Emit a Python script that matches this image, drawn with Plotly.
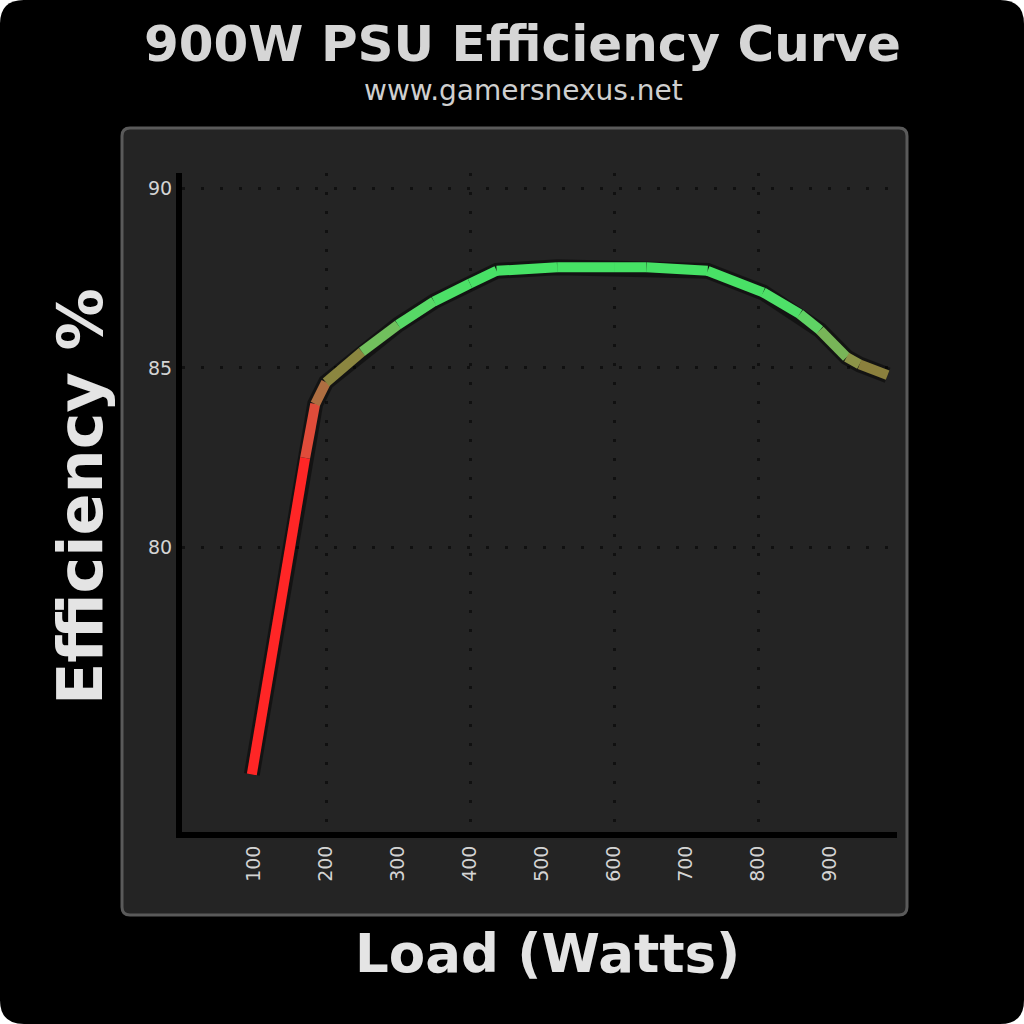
import plotly.graph_objects as go
from plotly.colors import sample_colorscale

# Efficiency curve
load_w = [97, 171, 185, 200, 250, 300, 350, 400, 437, 521, 600, 645, 730, 807, 858, 886, 923, 941, 980]
efficiency = [73.7, 82.5, 84.0, 84.6, 85.45, 86.2, 86.85, 87.35, 87.7, 87.8, 87.8, 87.8, 87.7, 87.1, 86.5, 86.05, 85.3, 85.1, 84.8]

x_ticks = [100, 200, 300, 400, 500, 600, 700, 800, 900]
x_grid = [200, 400, 600, 800]
y_ticks = [80, 85, 90]

# plot area in pixels (1024x1024 canvas)
L, R, T, B = 182, 897, 173, 832
PW, PH = R - L, B - T


def px(x):
    return (x - L) / PW


def py(y):
    return (B - y) / PH


def rounded_rect(x0, y0, x1, y1, r):
    # rounded rectangle as svg path in paper units
    pts = [
        ("M", [(x0 + r, y0)]), ("L", [(x1 - r, y0)]), ("Q", [(x1, y0), (x1, y0 + r)]),
        ("L", [(x1, y1 - r)]), ("Q", [(x1, y1), (x1 - r, y1)]),
        ("L", [(x0 + r, y1)]), ("Q", [(x0, y1), (x0, y1 - r)]),
        ("L", [(x0, y0 + r)]), ("Q", [(x0, y0), (x0 + r, y0)]),
    ]
    s = ""
    for cmd, coords in pts:
        s += cmd + " " + " ".join(f"{px(a):.5f},{py(b):.5f}" for a, b in coords) + " "
    return s + "Z"


# efficiency -> colour (red when low, brown/tan around 85, green at the top)
scale = [
    [0.0, "#ff2626"],
    [0.3, "#ff2a2a"],
    [0.5, "#c46a48"],
    [0.6, "#8a7436"],
    [0.66, "#8c9a4c"],
    [0.75, "#68cc62"],
    [0.85, "#4ee068"],
    [1.0, "#44e264"],
]
e_lo, e_hi = 80.0, 88.0

fig = go.Figure()

# soft shadow under the line
fig.add_trace(go.Scatter(
    x=load_w, y=efficiency, mode="lines",
    line=dict(color="rgba(0,0,0,0.45)", width=16),
    hoverinfo="skip", showlegend=False,
))

for i in range(len(load_w) - 1):
    mid = (efficiency[i] + efficiency[i + 1]) / 2
    t = min(max((mid - e_lo) / (e_hi - e_lo), 0), 1)
    col = sample_colorscale(scale, [t])[0]
    fig.add_trace(go.Scatter(
        x=load_w[i:i + 2], y=efficiency[i:i + 2], mode="lines",
        line=dict(color=col, width=10),
        showlegend=False,
    ))

tick_font = dict(family="DejaVu Sans", size=19, color="#d4d4d4")

fig.update_layout(
    width=1024, height=1024,
    margin=dict(l=L, r=1024 - R, t=T, b=1024 - B),
    paper_bgcolor="white",
    plot_bgcolor="rgba(0,0,0,0)",
    showlegend=False,
    xaxis=dict(
        range=[0, 993], tickvals=x_ticks, ticktext=[str(v) for v in x_ticks],
        tickangle=-90, tickfont=tick_font, ticks="", showgrid=False, zeroline=False,
        showline=True, linecolor="black", linewidth=6,
        minor=dict(tickvals=x_grid, showgrid=True, gridcolor="#101010",
                   gridwidth=3, griddash="3px,16px"),
    ),
    yaxis=dict(
        range=[72.1, 90.42], tickvals=y_ticks, tickfont=tick_font, ticks="",
        showgrid=True, gridcolor="#101010", gridwidth=3, griddash="3px,16px",
        zeroline=False, showline=True, linecolor="black", linewidth=6,
    ),
    shapes=[
        dict(type="path", xref="paper", yref="paper", layer="below",
             path=rounded_rect(0, 0, 1024, 1024, 24),
             fillcolor="black", line=dict(width=0)),
        dict(type="path", xref="paper", yref="paper", layer="below",
             path=rounded_rect(122, 128, 907, 915, 8),
             fillcolor="#242424", line=dict(color="#5a5a5a", width=3)),
    ],
    annotations=[
        dict(text="<b>900W PSU Efficiency Curve</b>", x=px(522), y=py(44),
             xanchor="center", yanchor="middle",
             xref="paper", yref="paper", showarrow=False,
             font=dict(family="DejaVu Sans", size=50, color="#d6d6d6")),
        dict(text="www.gamersnexus.net", x=px(523), y=py(91),
             xanchor="center", yanchor="middle",
             xref="paper", yref="paper", showarrow=False,
             font=dict(family="DejaVu Sans", size=28, color="#cfcfcf")),
        dict(text="<b>Efficiency %</b>", x=px(80), y=py(497), textangle=-90,
             xanchor="center", yanchor="middle",
             xref="paper", yref="paper", showarrow=False,
             font=dict(family="DejaVu Sans", size=62, color="#e4e4e4")),
        dict(text="<b>Load (Watts)</b>", x=px(547), y=py(953),
             xanchor="center", yanchor="middle",
             xref="paper", yref="paper", showarrow=False,
             font=dict(family="DejaVu Sans", size=53, color="#e4e4e4")),
    ],
)

fig.write_html("out.html", config={"displayModeBar": False},
               post_script="document.body.style.margin='0';")
